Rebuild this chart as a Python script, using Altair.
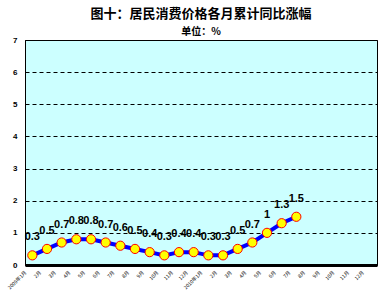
import altair as alt
import pandas as pd

# x-axis category labels (24 months shown on the axis)
month_labels = ["2009年1月", "2月", "3月", "4月", "5月", "6月", "7月", "8月", "9月", "10月", "11月", "12月",
                "2010年1月", "2月", "3月", "4月", "5月", "6月", "7月", "8月", "9月", "10月", "11月", "12月"]
# cumulative YoY values (%) for months with data
values = [0.3, 0.5, 0.7, 0.8, 0.8, 0.7, 0.6, 0.5, 0.4, 0.3, 0.4, 0.4,
          0.3, 0.3, 0.5, 0.7, 1.0, 1.3, 1.5]
y_ticks = [0, 1, 2, 3, 4, 5, 6, 7]

df = pd.DataFrame({"i": [k + 0.5 for k in range(len(values))], "v": values})

label_arr = "[" + ",".join("'" + s + "'" for s in month_labels) + "]"

x_enc = alt.X("i:Q", scale=alt.Scale(domain=[0, len(month_labels)], nice=False, zero=False),
              axis=alt.Axis(values=list(range(len(month_labels))), labelExpr=label_arr + "[datum.value]",
                            labelAngle=-45, labelAlign="right", labelBaseline="middle",
                            labelFontSize=5, labelFont="Noto Sans CJK SC", labelPadding=6,
                            ticks=False, grid=False, domainColor="black", domainWidth=3,
                            title=None, labelColor="black", labelOverlap=False))
y_enc = alt.Y("v:Q", scale=alt.Scale(domain=[0, 7], nice=False),
              axis=alt.Axis(values=y_ticks, ticks=False, labelPadding=8, labelFontSize=8,
                            labelFontWeight="bold", labelFont="Liberation Sans", labelColor="black",
                            grid=True, gridColor="black", gridDash=[4, 3], gridWidth=1,
                            domainColor="black", domainWidth=1, title=None))

base = alt.Chart(df).encode(x=x_enc, y=y_enc)

line = base.mark_line(color="#0000FF", strokeWidth=4)
pts = base.mark_point(filled=True, fill="#FFFF00", stroke="#FF0000", strokeWidth=1, size=85, opacity=1)
txt = base.mark_text(dy=-18, fontSize=11, fontWeight="bold", font="Liberation Sans", color="black",
                     baseline="middle").encode(text=alt.Text("v:Q", format=".1~f"))

chart = alt.layer(line, pts, txt).properties(
    width=352, height=225,
    background="white",
    autosize=alt.AutoSizeParams(type="none"),
    padding={"left": 25, "top": 40, "right": 4, "bottom": 38},
    title=alt.TitleParams(text="图十：居民消费价格各月累计同比涨幅", subtitle="单位：%",
                          anchor="middle", font="Noto Sans CJK SC", fontSize=13, fontWeight="bold",
                          subtitleFont="Noto Sans CJK SC", subtitleFontSize=10, subtitleFontWeight="bold",
                          subtitlePadding=6, offset=-1, color="black", subtitleColor="black"),
).configure_view(fill="#CCFFFF", stroke="black", strokeWidth=1)

chart.save("out.html", embed_options={"renderer": "svg", "actions": False})
